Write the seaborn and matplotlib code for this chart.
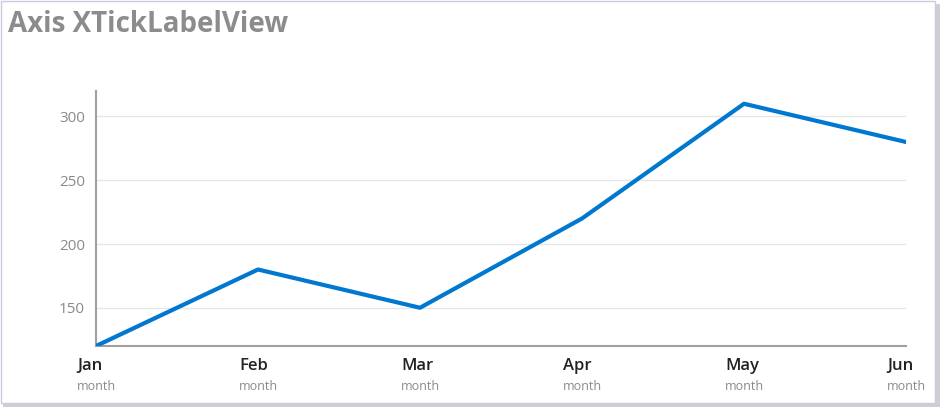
import matplotlib
matplotlib.use("Agg")
import matplotlib.pyplot as plt
import matplotlib.patches as patches
from matplotlib.transforms import offset_copy
import seaborn as sns
import pandas as pd

# Chart data
months = ['Jan', 'Feb', 'Mar', 'Apr', 'May', 'Jun']
values = [120, 180, 150, 220, 310, 280]
sub_label = 'month'
y_ticks = [150, 200, 250, 300]
title = 'Axis XTickLabelView'

LINE_COLOR = '#0078D0'
GRID_COLOR = '#E6E6E6'
AXIS_COLOR = '#A0A0A0'

sns.set_style('white')
plt.rcParams['font.family'] = ['Open Sans', 'DejaVu Sans']

df = pd.DataFrame({'idx': range(len(months)), 'value': values})

W, H = 940, 407
fig = plt.figure(figsize=(W / 100, H / 100), dpi=100)

# frame with shadow (drawn first, behind the axes)
fig.patches.append(patches.Rectangle((3 / W, 0), (W - 3) / W, (H - 4) / H,
                                     transform=fig.transFigure, facecolor='#CFCFCF',
                                     edgecolor='none', zorder=-2))
fig.patches.append(patches.Rectangle((0.5 / W, 4 / H), (W - 5.5) / W, (H - 4.5) / H,
                                     transform=fig.transFigure, facecolor='white',
                                     edgecolor='#C9CCE0', linewidth=1, zorder=-1))

ax = fig.add_axes([96 / W, 1 - 346 / H, (906 - 96) / W, (346 - 91) / H])
ax.set_zorder(2)
ax.patch.set_alpha(0)

sns.lineplot(data=df, x='idx', y='value', ax=ax, color=LINE_COLOR, linewidth=3, zorder=3)

ax.set_xlim(0, len(months) - 1)
ax.set_ylim(120, 320)
ax.set_yticks(y_ticks)
ax.set_yticklabels([str(t) for t in y_ticks], color='#8A8A8A', fontsize=11)
ax.tick_params(axis='y', length=0, pad=8)
ax.set_xticks([])
ax.set_xlabel('')
ax.set_ylabel('')
ax.grid(axis='y', color=GRID_COLOR, linewidth=1)
ax.set_axisbelow(True)

for s in ['top', 'right']:
    ax.spines[s].set_visible(False)
ax.spines['left'].set_color(AXIS_COLOR)
ax.spines['bottom'].set_color(AXIS_COLOR)
ax.spines['left'].set_linewidth(1.5)
ax.spines['bottom'].set_linewidth(1.5)

# tick labels with a second line underneath
for i, m in enumerate(months):
    tr = offset_copy(ax.get_xaxis_transform(), fig=fig, x=-19, y=-20, units='dots')
    ax.text(i, 0, m, transform=tr, ha='left', va='center', fontsize=12,
            fontweight='semibold', color='#222222', clip_on=False)
    tr2 = offset_copy(ax.get_xaxis_transform(), fig=fig, x=-19, y=-41, units='dots')
    ax.text(i, 0, sub_label, transform=tr2, ha='left', va='center', fontsize=9,
            color='#8A8A8A', clip_on=False)

fig.text(8 / W, 1 - 25 / H, title, ha='left', va='center', fontsize=20,
         fontweight='bold', color='#8C8C8C')

fig.savefig('out.png', dpi=100)
